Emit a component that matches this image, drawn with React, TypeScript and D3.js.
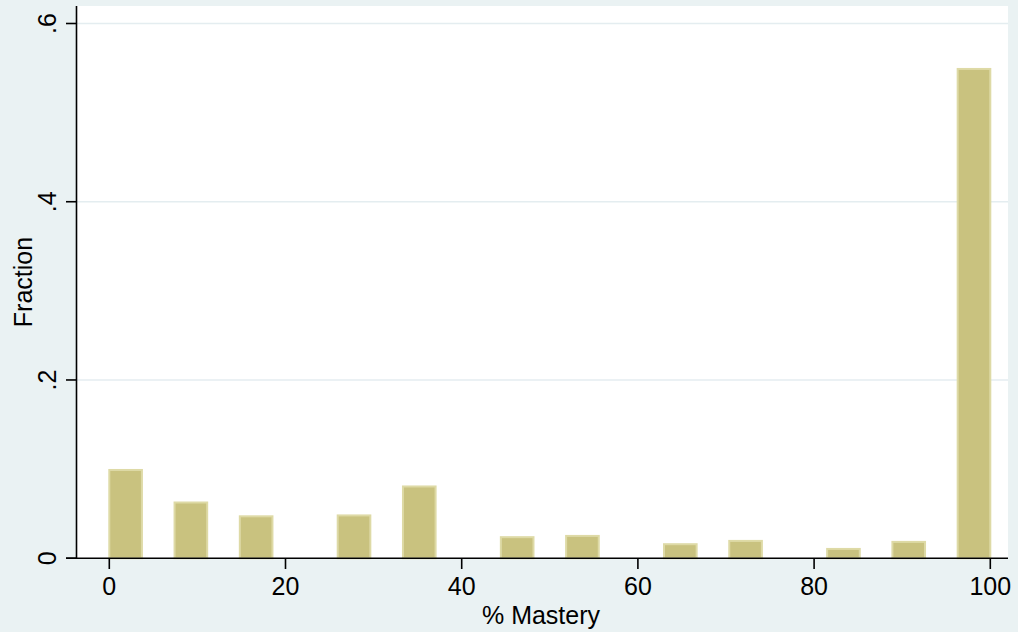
import React from "react";
import * as d3 from "d3";

// Histogram of % Mastery: bin lower edges (percent) and fraction in each bin
const binStarts = [0, 7.407, 14.815, 25.926, 33.333, 44.444, 51.852, 62.963, 70.370, 81.481, 88.889, 96.296];
const fractions = [0.099, 0.0625, 0.047, 0.048, 0.0805, 0.0236, 0.025, 0.0157, 0.0194, 0.0104, 0.0183, 0.549];
const binWidth = 100 / 27;

const xTicks = [0, 20, 40, 60, 80, 100];
const yTicks = [0, 0.2, 0.4, 0.6];
const yTickLabels = ["0", ".2", ".4", ".6"];

const W = 1018;
const H = 632;
const plot = { left: 77, right: 1008, top: 6, bottom: 558.2 };

const BG = "#eaf2f3";
const GRID = "#e4edf0";
const FILL = "#c9c27f";
const EDGE = "#dedaa6";
const FONT = "'Liberation Sans', Arial, Helvetica, sans-serif";

export default function App() {
  const x = d3.scaleLinear().domain([0, 100]).range([109.3, 990.3]);
  const y = d3.scaleLinear().domain([0, 0.6]).range([plot.bottom, 23.5]);

  const bars = binStarts.map((b, i) => ({ x0: b, x1: b + binWidth, v: fractions[i] }));

  return (
    <svg
      width={W}
      height={H}
      style={{ position: "absolute", left: 0, top: 0, display: "block" }}
      fontFamily={FONT}
    >
      <rect x={0} y={0} width={W} height={H} fill={BG} />
      <rect
        x={plot.left}
        y={plot.top}
        width={plot.right - plot.left}
        height={plot.bottom - plot.top}
        fill="#ffffff"
      />
      {/* horizontal grid lines */}
      {yTicks
        .filter((t) => t > 0)
        .map((t) => (
          <line
            key={"g" + t}
            x1={plot.left}
            x2={plot.right}
            y1={y(t)}
            y2={y(t)}
            stroke={GRID}
            strokeWidth={1.6}
          />
        ))}
      {/* bars */}
      {bars.map((d, i) => (
        <rect
          key={"b" + i}
          x={x(d.x0)}
          y={y(d.v)}
          width={x(d.x1) - x(d.x0)}
          height={y(0) - y(d.v)}
          fill={FILL}
          stroke={EDGE}
          strokeWidth={2}
        />
      ))}
      {/* axes */}
      <line x1={76.5} x2={76.5} y1={plot.top} y2={plot.bottom + 0.8} stroke="#000" strokeWidth={1.6} />
      <line x1={66} x2={plot.right} y1={plot.bottom} y2={plot.bottom} stroke="#000" strokeWidth={1.6} />
      {yTicks.map((t, i) => (
        <g key={"yt" + t}>
          <line x1={66} x2={76.5} y1={y(t)} y2={y(t)} stroke="#000" strokeWidth={1.6} />
          <text
            transform={`translate(55.5,${y(t)}) rotate(-90)`}
            textAnchor="middle"
            fontSize={25}
            fill="#000"
          >
            {yTickLabels[i]}
          </text>
        </g>
      ))}
      {xTicks.map((t) => (
        <g key={"xt" + t}>
          <line x1={x(t)} x2={x(t)} y1={plot.bottom} y2={569} stroke="#000" strokeWidth={1.6} />
          <text x={x(t)} y={595} textAnchor="middle" fontSize={25} fill="#000">
            {t}
          </text>
        </g>
      ))}
      <text x={541} y={624} textAnchor="middle" fontSize={25} fill="#000">
        % Mastery
      </text>
      <text
        transform={`translate(31.5,282) rotate(-90)`}
        textAnchor="middle"
        fontSize={25}
        fill="#000"
      >
        Fraction
      </text>
    </svg>
  );
}
